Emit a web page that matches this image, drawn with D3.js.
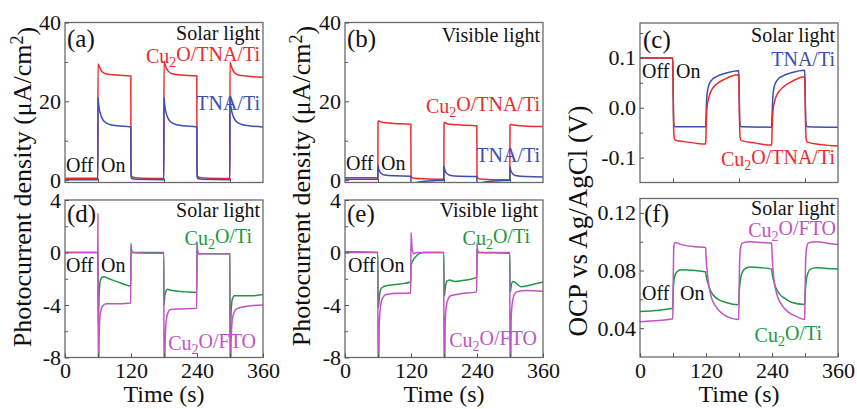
<!DOCTYPE html>
<html><head><meta charset="utf-8">
<script src="https://cdn.jsdelivr.net/npm/d3@7"></script>
<style>
html,body{margin:0;padding:0;background:#fff;}
svg{display:block;}
</style></head>
<body><svg id="chart" width="857" height="409" style="font-family:'Liberation Serif','Times New Roman',serif"></svg>
<script>
// ---------- DATA (time in s, value) ----------
const timeTicks = [0, 120, 240, 360];
const timeMinor = [60, 180, 300];

// (a) Solar light photocurrent (μA/cm2)
const aCu2OTNA = [[0,0.5],[59.7,0.5],[60,29.5],[61,29.3],[63,28.6],[66,27.8],[70,27.2],[80,26.8],[100,26.6],[119.7,26.4],[120,3],[121,1.0],[125,0.7],[140,0.5],[179.7,0.4],[180,30.2],[181,29.8],[184,28.5],[188,27.6],[195,27.0],[210,26.7],[239.7,26.4],[240,3],[241,1.0],[245,0.7],[260,0.5],[299.7,0.4],[300,30],[301,29.6],[304,28.3],[308,27.3],[315,26.7],[330,26.4],[360,26.1]];
const aTNA = [[0,0.1],[59.7,0.1],[60,21],[61,19.5],[62,18.3],[64,17],[67,15.8],[72,14.8],[80,14.2],[95,13.8],[119.7,13.5],[120,1],[121,0.4],[130,0.2],[179.7,0.1],[180,21],[181,19.5],[182,18.3],[184,17],[187,15.8],[192,14.8],[200,14.2],[215,13.8],[239.7,13.5],[240,1],[241,0.4],[250,0.2],[299.7,0.1],[300,21],[301,19.5],[302,18.3],[304,17],[307,15.8],[312,14.8],[320,14.2],[335,13.8],[360,13.5]];

// (b) Visible light photocurrent
const bCu2OTNA = [[0,0.6],[59.7,0.6],[60,14.6],[61,15.1],[63,14.9],[70,14.6],[90,14.4],[119.7,14.2],[120,1.5],[121,0.8],[125,0.5],[150,0.3],[179.7,0.2],[180,14.2],[181,14.7],[183,14.5],[190,14.2],[210,14.0],[239.7,13.8],[240,1.2],[241,0.6],[245,0.3],[270,0.1],[299.7,0.1],[300,13.8],[301,14.2],[303,14.1],[310,13.9],[330,13.7],[360,13.6]];
const bTNA = [[0,0.2],[59.7,0.2],[60,3.8],[61,3.0],[63,2.2],[66,1.7],[72,1.3],[90,1.1],[119.7,1.0],[120,-0.5],[121,-1.1],[123,-1.0],[130,-0.6],[145,-0.3],[165,-0.1],[179.7,0],[180,3.5],[181,2.8],[183,2.1],[186,1.6],[192,1.2],[210,1.0],[239.7,0.9],[240,-0.5],[241,-1.1],[243,-1.0],[250,-0.6],[265,-0.3],[285,-0.1],[299.7,0],[300,3.4],[301,2.7],[303,2.0],[306,1.5],[312,1.1],[330,0.9],[360,0.8]];

// (c) OCP vs Ag/AgCl (V), solar light
const cTNA = [[0,0.1],[59.5,0.1],[60,0.06],[61,-0.02],[62,-0.035],[64,-0.038],[119.5,-0.038],[120,-0.02],[121,0.012],[122,0.028],[125,0.045],[130,0.055],[140,0.063],[155,0.069],[179.5,0.074],[180,0.05],[181,-0.01],[182,-0.033],[184,-0.038],[239.5,-0.039],[240,-0.02],[241,0.012],[242,0.028],[245,0.046],[250,0.056],[260,0.064],[275,0.07],[299.5,0.075],[300,0.05],[301,-0.01],[302,-0.033],[304,-0.038],[360,-0.039]];
const cCu2OTNA = [[0,0.1],[59.5,0.1],[60,0.06],[61,-0.03],[62,-0.058],[64,-0.065],[80,-0.068],[100,-0.071],[119.5,-0.073],[120,-0.05],[121,-0.015],[122,0.002],[125,0.02],[130,0.035],[140,0.048],[155,0.058],[179.5,0.066],[180,0.04],[181,-0.03],[182,-0.06],[184,-0.066],[210,-0.071],[239.5,-0.075],[240,-0.05],[241,-0.02],[242,-0.004],[245,0.014],[250,0.028],[260,0.041],[275,0.052],[299.5,0.062],[300,0.04],[301,-0.03],[302,-0.062],[304,-0.069],[330,-0.074],[360,-0.077]];

// (d) Solar light photocurrent, p-type
const dCu2OFTO = [[0,0],[59.5,0],[60,3],[60.5,-9],[61.5,-9],[62,-6.5],[63,-5.2],[65,-4.5],[68,-4.1],[75,-3.9],[100,-3.9],[119.5,-3.85],[120,0.7],[121,0.2],[123,0],[150,-0.05],[179.5,-0.05],[180,-9],[181.5,-9],[182,-6.8],[184,-5.2],[187,-4.6],[192,-4.35],[210,-4.3],[239.5,-4.25],[240,0.8],[241,0.1],[243,-0.1],[270,-0.1],[299.5,-0.1],[300,-9],[301.5,-9],[302,-6.8],[304,-5.2],[307,-4.6],[312,-4.3],[330,-4.1],[360,-4.0]];
const dCu2OTi = [[0,0],[59.5,0],[60,-2],[60.7,-5.5],[62,-3.2],[64,-2.2],[67,-1.9],[70,-1.85],[80,-2.0],[100,-2.3],[119.5,-2.55],[120,0.5],[121,0.1],[123,0],[179.5,0],[180,-4],[181,-3.5],[183,-3.0],[186,-2.8],[195,-2.9],[220,-3.0],[239.5,-3.05],[240,0.6],[241,0.1],[243,-0.1],[299.5,-0.1],[300,-4],[300.7,-7],[302,-4.5],[304,-3.6],[308,-3.3],[320,-3.3],[340,-3.3],[360,-3.2]];

// (e) Visible light photocurrent, p-type
const eCu2OFTO = [[0,0],[59.5,0],[60,-9],[61.5,-9],[62,-6],[63,-4.8],[65,-4.0],[68,-3.5],[75,-3.2],[100,-3.1],[119.5,-3.1],[120,1.5],[120.7,1.2],[122,0.3],[125,-0.1],[130,0],[179.5,0],[180,-9],[181.5,-9],[182,-5.5],[184,-4.2],[187,-3.6],[192,-3.3],[210,-3.15],[239.5,-3.0],[240,0.7],[241,0.2],[243,0],[299.5,0],[300,-9],[301.5,-9],[302,-5.2],[304,-3.9],[307,-3.3],[312,-3.0],[330,-2.9],[360,-2.95]];
const eCu2OTi = [[0,0.05],[59.5,0],[60,-2],[60.8,-4.2],[62,-3.6],[65,-2.8],[70,-2.6],[80,-2.5],[100,-2.4],[119.5,-2.25],[120,-1.0],[122,-0.75],[125,-0.5],[130,-0.25],[136,-0.05],[145,0],[179.5,0],[180,-2],[180.8,-3.3],[182,-2.8],[185,-2.2],[190,-2.1],[200,-2.2],[220,-2.1],[239.5,-1.9],[240,0.3],[241,0.05],[243,0],[299.5,-0.05],[300,-2],[300.8,-3.0],[302,-2.6],[305,-2.2],[310,-2.3],[320,-2.6],[335,-2.5],[350,-2.35],[360,-2.25]];

// (f) OCP, p-type
const fCu2OFTO = [[0,0.0445],[59.5,0.0465],[60,0.06],[61,0.09],[62,0.098],[64,0.0995],[75,0.098],[100,0.0965],[119.5,0.096],[120,0.09],[122,0.08],[125,0.07],[130,0.061],[138,0.055],[150,0.05],[165,0.047],[179.5,0.046],[180,0.06],[181,0.085],[183,0.096],[186,0.099],[200,0.1],[220,0.0995],[239.5,0.099],[240,0.093],[242,0.08],[245,0.07],[250,0.062],[258,0.056],[270,0.051],[285,0.048],[299.5,0.046],[300,0.06],[301,0.085],[303,0.096],[306,0.099],[320,0.1],[340,0.099],[360,0.098]];
const fCu2OTi = [[0,0.0515],[59.5,0.0538],[60,0.06],[61,0.07],[63,0.076],[67,0.079],[75,0.0805],[100,0.08],[119.5,0.079],[120,0.077],[123,0.072],[127,0.067],[133,0.063],[142,0.06],[155,0.058],[179.5,0.0562],[180,0.062],[182,0.072],[185,0.078],[190,0.081],[200,0.0825],[220,0.082],[239.5,0.081],[240,0.079],[243,0.073],[247,0.068],[253,0.064],[262,0.061],[275,0.058],[299.5,0.0565],[300,0.062],[302,0.072],[305,0.078],[310,0.081],[320,0.082],[340,0.0815],[360,0.081]];

// axis ticks
const aYTicks = [0, 20, 40], aYMinor = [10, 30];
const cYTicks = [-0.1, 0.0, 0.1], cYMinor = [-0.05, 0.05, 0.15];
const dYTicks = [-8, -4, 0, 4], dYMinor = [-6, -2, 2];
const fYTicks = [0.04, 0.08, 0.12], fYMinor = [0.06, 0.10];

// ---------- DRAWING ----------
const C = {red:"#ee2b2b", blue:"#3b4fb2", green:"#1d9843", mag:"#c452c4"};
const FF = "'Liberation Serif','Times New Roman',serif";
const svg = d3.select("#chart");
const FONT = 22;

function sub(sel, parts, color){
  parts.forEach(([t, k]) => {
    const ts = sel.append("tspan").text(t).style("fill", color);
    if (k === "sub") ts.style("font-size","70%").attr("dy","0.28em");
    if (k === "sup") ts.style("font-size","70%").attr("dy","-0.45em");
    if (k === "back") ts.attr("dy","-0.28em");
    if (k === "backsup") ts.attr("dy","0.45em");
  });
}

let clipId = 0;
function panel(o){
  const g = svg.append("g");
  const x = d3.scaleLinear().domain([0,360]).range([o.x0,o.x1]);
  const y = d3.scaleLinear().domain(o.ydom).range([o.y1,o.y0]);
  const id = "clip"+(clipId++);
  svg.append("clipPath").attr("id",id).append("rect")
    .attr("x",o.x0).attr("y",o.y0).attr("width",o.x1-o.x0).attr("height",o.y1-o.y0);
  const line = d3.line().x(d=>x(d[0])).y(d=>y(d[1])).curve(d3.curveMonotoneX);
  const lg = g.append("g").attr("clip-path",`url(#${id})`);
  o.series.forEach(s=>{
    lg.append("path").datum(s.data).attr("d",line)
      .attr("fill","none").attr("stroke",s.color).attr("stroke-width",1.5)
      .attr("stroke-linejoin","round");
  });
  g.append("rect").attr("x",o.x0).attr("y",o.y0).attr("width",o.x1-o.x0).attr("height",o.y1-o.y0)
    .attr("fill","none").attr("stroke","#6a6a6a").attr("stroke-width",1.3);
  const ya = g.append("g").attr("transform",`translate(${o.x0},0)`)
    .call(d3.axisLeft(y).tickValues(o.yt).tickSize(-4).tickPadding(4).tickFormat(o.yfmt));
  const ym = g.append("g").attr("transform",`translate(${o.x0},0)`)
    .call(d3.axisLeft(y).tickValues(o.ym).tickSize(-3).tickFormat(""));
  const xa = g.append("g").attr("transform",`translate(0,${o.y1})`)
    .call(d3.axisBottom(x).tickValues(o.bottom ? timeTicks : []).tickSize(-4).tickPadding(5).tickFormat(d=>d));
  const xm = g.append("g").attr("transform",`translate(0,${o.y1})`)
    .call(d3.axisBottom(x).tickValues(timeMinor).tickSize(-4).tickFormat(""));
  [ya,ym,xa,xm].forEach(a=>{
    a.select(".domain").remove();
    a.attr("font-family",null).attr("font-size",null);
    a.selectAll("line").attr("stroke","#555").attr("stroke-width",1);
    a.selectAll("text").style("font-size",FONT+"px").style("font-family",FF).style("fill","#111");
  });
  if (o.bottom){
    g.append("text").attr("x",(o.x0+o.x1)/2).attr("y",o.y1+44.5).attr("text-anchor","middle")
      .style("font-size","24px").style("font-family",FF).style("fill","#111").text("Time (s)");
  }
  o.notes.forEach(n=>{
    const col = n.color||"#111";
    const t = g.append("text").attr("x",n.x).attr("y",n.y)
      .style("font-size",(n.fs||20)+"px").style("font-family",FF)
      .attr("text-anchor",n.anchor||"start").style("fill",col);
    if (n.parts) sub(t, n.parts, col); else t.text(n.text);
  });
  return {x,y};
}

const fmt1 = d=>d.toFixed(1);
const fmt2 = d=>d.toFixed(2);
const fmtInt = d=>String(d);

const cuTNA = [["Cu"],["2","sub"],["O/TNA/Ti","back"]];
const cuTi = [["Cu"],["2","sub"],["O/Ti","back"]];
const cuFTO = [["Cu"],["2","sub"],["O/FTO","back"]];

// (a)
panel({x0:65,x1:263,y0:22.5,y1:182.5,ydom:[-0.6,40],yt:aYTicks,ym:aYMinor,yfmt:fmtInt,bottom:false,
  series:[{data:aCu2OTNA,color:C.red},{data:aTNA,color:C.blue}],
  notes:[{x:67,y:47,text:"(a)",fs:25},{x:260,y:40,text:"Solar light",anchor:"end"},
    {x:260,y:63,parts:cuTNA,anchor:"end",color:C.red},
    {x:260,y:110,text:"TNA/Ti",anchor:"end",color:C.blue},
    {x:66,y:172,text:"Off"},{x:101,y:172,text:"On"}]});
// (b)
panel({x0:345,x1:543,y0:22.5,y1:182.5,ydom:[-0.6,40],yt:aYTicks,ym:aYMinor,yfmt:fmtInt,bottom:false,
  series:[{data:bCu2OTNA,color:C.red},{data:bTNA,color:C.blue}],
  notes:[{x:347,y:47,text:"(b)",fs:25},{x:540,y:42,text:"Visible light",anchor:"end"},
    {x:540,y:113,parts:cuTNA,anchor:"end",color:C.red},
    {x:540,y:162,text:"TNA/Ti",anchor:"end",color:C.blue},
    {x:346,y:170,text:"Off"},{x:381,y:170,text:"On"}]});
// (c)
panel({x0:640,x1:838,y0:23,y1:182.5,ydom:[-0.15,0.17],yt:cYTicks,ym:cYMinor,yfmt:fmt1,bottom:false,
  series:[{data:cTNA,color:C.blue},{data:cCu2OTNA,color:C.red}],
  notes:[{x:643,y:48,text:"(c)",fs:25},{x:835,y:42,text:"Solar light",anchor:"end"},
    {x:835,y:66,text:"TNA/Ti",anchor:"end",color:C.blue},
    {x:642,y:78,text:"Off"},{x:676,y:78,text:"On"},
    {x:835,y:166,parts:cuTNA,anchor:"end",color:C.red}]});
// (d)
panel({x0:65,x1:263,y0:200,y1:357.5,ydom:[-8,4],yt:dYTicks,ym:dYMinor,yfmt:fmtInt,bottom:true,
  series:[{data:dCu2OTi,color:C.green},{data:dCu2OFTO,color:C.mag}],
  notes:[{x:67,y:222,text:"(d)",fs:25},{x:260,y:217,text:"Solar light",anchor:"end"},
    {x:252,y:245,parts:cuTi,anchor:"end",color:C.green},
    {x:66,y:272,text:"Off"},{x:101,y:272,text:"On"},
    {x:256,y:350,parts:cuFTO,anchor:"end",color:C.mag}]});
// (e)
panel({x0:345,x1:543,y0:200,y1:357.5,ydom:[-8,4],yt:dYTicks,ym:dYMinor,yfmt:fmtInt,bottom:true,
  series:[{data:eCu2OTi,color:C.green},{data:eCu2OFTO,color:C.mag}],
  notes:[{x:347,y:222,text:"(e)",fs:25},{x:538,y:217,text:"Visible light",anchor:"end"},
    {x:530,y:245,parts:cuTi,anchor:"end",color:C.green},
    {x:348,y:272,text:"Off"},{x:380,y:272,text:"On"},
    {x:537,y:347,parts:cuFTO,anchor:"end",color:C.mag}]});
// (f)
panel({x0:640,x1:838,y0:198.5,y1:357,ydom:[0.02,0.13],yt:fYTicks,ym:fYMinor,yfmt:fmt2,bottom:true,
  series:[{data:fCu2OTi,color:C.green},{data:fCu2OFTO,color:C.mag}],
  notes:[{x:644,y:222,text:"(f)",fs:25},{x:835,y:215,text:"Solar light",anchor:"end"},
    {x:836,y:237,parts:cuFTO,anchor:"end",color:C.mag},
    {x:642,y:300,text:"Off"},{x:680,y:300,text:"On"},
    {x:822,y:342,parts:cuTi,anchor:"end",color:C.green}]});

// y axis titles
function ylabel(x, y, parts, fs){
  const t = svg.append("text").attr("transform",`translate(${x},${y}) rotate(-90)`)
    .attr("text-anchor","middle").style("font-size",fs+"px").style("font-family",FF).style("fill","#111");
  sub(t, parts, "#111");
}
const pcLabel = [["Photocurrent density (μA/cm"],["2","sup"],[")","backsup"]];
ylabel(31, 187, pcLabel, 26);
ylabel(310, 186, pcLabel, 26);
ylabel(587, 221, [["OCP vs Ag/AgCl (V)"]], 27);
</script></body></html>
